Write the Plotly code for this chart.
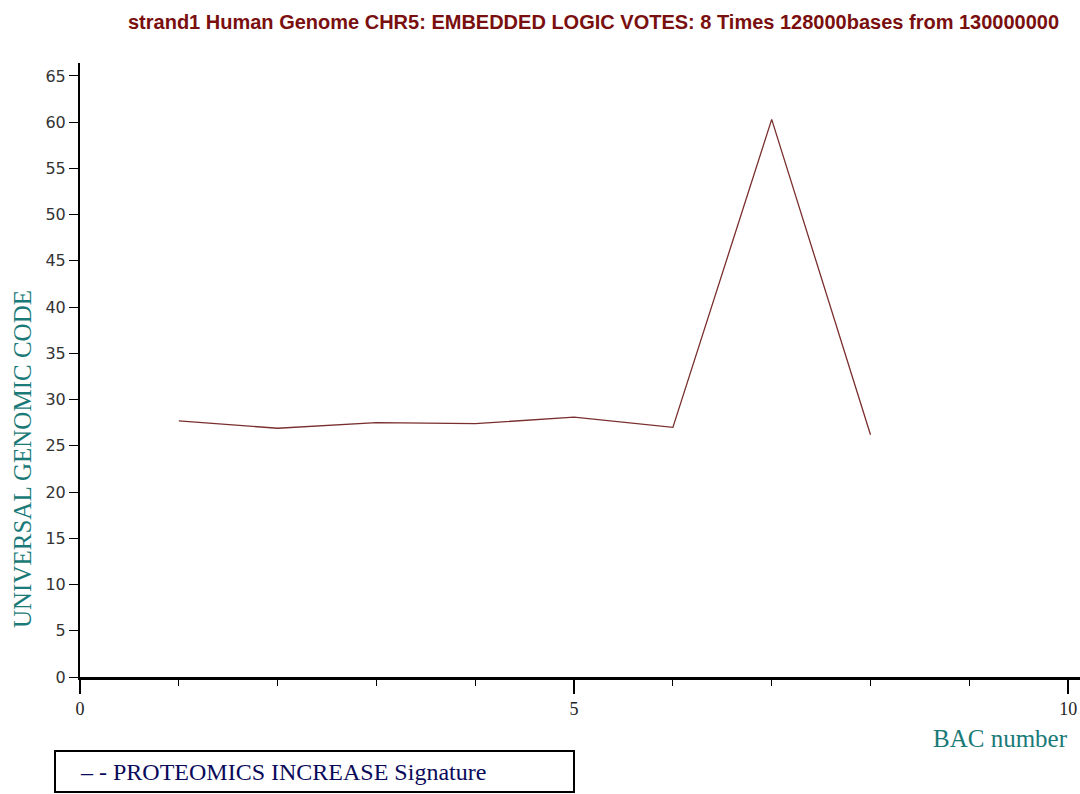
import plotly.graph_objects as go

bac_number = [1, 2, 3, 4, 5, 6, 7, 8]
genomic_code = [27.7, 26.9, 27.5, 27.4, 28.1, 27.0, 60.3, 26.2]

title_text = "strand1 Human Genome CHR5: EMBEDDED LOGIC VOTES: 8 Times 128000bases from 130000000"
x_title = "BAC number"
y_title = "UNIVERSAL GENOMIC CODE"
legend_text = "– - PROTEOMICS INCREASE Signature"

W, H = 1080, 794
L, R, T, B = 80, 0, 63, 117
pw, ph = W - L - R, H - T - B

def px(xp):
    return (xp - L) / pw

def py(yp):
    return (H - B - yp) / ph

fig = go.Figure()
fig.add_trace(go.Scatter(
    x=bac_number, y=genomic_code, mode="lines",
    line=dict(color="#7a2e2e", width=1.3),
    showlegend=False, hoverinfo="x+y",
))

fig.update_layout(
    width=W, height=H,
    margin=dict(l=L, r=R, t=T, b=B),
    paper_bgcolor="white", plot_bgcolor="white",
    showlegend=False,
    xaxis=dict(
        range=[0, 10.12], tickvals=[0, 5, 10], ticktext=["0", "5", "10"],
        ticks="outside", ticklen=14, tickwidth=1.5, tickcolor="black",
        showgrid=False, zeroline=False,
        showline=True, linecolor="black", linewidth=2.5,
        tickfont=dict(family="Liberation Serif", size=18, color="#222"),
        minor=dict(dtick=1, tick0=0, ticks="outside", ticklen=6, tickwidth=1.2, tickcolor="black", showgrid=False),
    ),
    yaxis=dict(
        range=[0, 66.4], dtick=5, tick0=0,
        ticks="outside", ticklen=9, tickwidth=1, tickcolor="black",
        showgrid=False, zeroline=False,
        showline=True, linecolor="black", linewidth=2,
        tickfont=dict(family="DejaVu Sans", size=16, color="#333"),
    ),
)

fig.add_annotation(
    text=title_text, xref="paper", yref="paper",
    x=px(593), y=py(22), xanchor="center", yanchor="middle",
    showarrow=False,
    font=dict(family="Liberation Sans", size=20, color="#7a0f0f", weight="bold"),
)
fig.add_annotation(
    text=x_title, xref="paper", yref="paper",
    x=px(1000), y=py(738), xanchor="center", yanchor="middle",
    showarrow=False,
    font=dict(family="Liberation Serif", size=25, color="#1a7a78"),
)
fig.add_annotation(
    text=y_title, xref="paper", yref="paper",
    x=px(22), y=py(459), xanchor="center", yanchor="middle",
    textangle=-90, showarrow=False,
    font=dict(family="Liberation Serif", size=25, color="#1a7a78"),
)
fig.add_shape(
    type="rect", xref="paper", yref="paper",
    x0=px(55), x1=px(574), y0=py(751), y1=py(792),
    line=dict(color="black", width=2), fillcolor="rgba(0,0,0,0)",
)
fig.add_annotation(
    text=legend_text, xref="paper", yref="paper",
    x=px(78), y=py(772), xanchor="left", yanchor="middle",
    showarrow=False,
    font=dict(family="Liberation Serif", size=24, color="#0a0a5a"),
)

fig.write_html(
    "out.html",
    config={"displayModeBar": False},
    post_script="document.body.style.margin='0';document.body.style.overflow='hidden';",
)
